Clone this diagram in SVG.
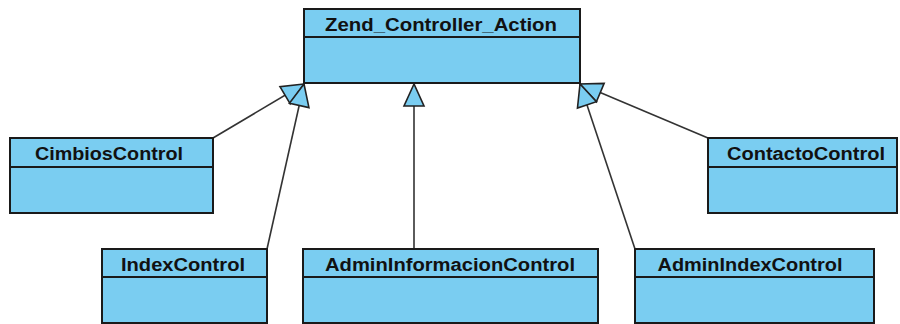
<svg xmlns="http://www.w3.org/2000/svg" width="900" height="324" viewBox="0 0 900 324">
<style>
.box{fill:#7ACDF1;stroke:#1a1a1a;stroke-width:2}
.div{stroke:#1a1a1a;stroke-width:2}
.lbl{font-family:"Liberation Sans",Arial,sans-serif;font-weight:bold;font-size:18px;fill:#111;text-anchor:middle}
.conn{stroke:#333;stroke-width:1.6;fill:none;marker-end:url(#tri)}
</style>
<defs>
<marker id="tri" markerUnits="userSpaceOnUse" markerWidth="26" markerHeight="26" viewBox="-24 -13 26 26" refX="0" refY="0" orient="auto">
<path d="M0,0 L-22,-10 L-22,10 Z" fill="#7ACDF1" stroke="#222" stroke-width="1.6" stroke-linejoin="miter"/>
</marker>
</defs>
<rect width="900" height="324" fill="#ffffff"/>
<g id="connectors">
<line class="conn" x1="213" y1="138" x2="304" y2="84"/>
<line class="conn" x1="267" y1="249" x2="304" y2="84"/>
<line class="conn" x1="414" y1="249" x2="414" y2="84"/>
<line class="conn" x1="708" y1="138" x2="580" y2="84"/>
<line class="conn" x1="635" y1="249" x2="580" y2="84"/>
</g>
<g id="Zend_Controller_Action">
<rect class="box" x="304" y="9" width="276" height="74"/>
<line class="div" x1="304" y1="37" x2="580" y2="37"/>
<text class="lbl" x="441" y="31" textLength="232" lengthAdjust="spacingAndGlyphs">Zend_Controller_Action</text>
</g>
<g id="CimbiosControl">
<rect class="box" x="10" y="138" width="203" height="75"/>
<line class="div" x1="10" y1="167" x2="213" y2="167"/>
<text class="lbl" x="109" y="160" textLength="148" lengthAdjust="spacingAndGlyphs">CimbiosControl</text>
</g>
<g id="ContactoControl">
<rect class="box" x="708" y="138" width="189" height="75"/>
<line class="div" x1="708" y1="167" x2="897" y2="167"/>
<text class="lbl" x="806" y="160" textLength="158" lengthAdjust="spacingAndGlyphs">ContactoControl</text>
</g>
<g id="IndexControl">
<rect class="box" x="102" y="249" width="165" height="74"/>
<line class="div" x1="102" y1="277" x2="267" y2="277"/>
<text class="lbl" x="183" y="271" textLength="124" lengthAdjust="spacingAndGlyphs">IndexControl</text>
</g>
<g id="AdminInformacionControl">
<rect class="box" x="303" y="249" width="295" height="74"/>
<line class="div" x1="303" y1="277" x2="598" y2="277"/>
<text class="lbl" x="450" y="271" textLength="250" lengthAdjust="spacingAndGlyphs">AdminInformacionControl</text>
</g>
<g id="AdminIndexControl">
<rect class="box" x="635" y="249" width="239" height="74"/>
<line class="div" x1="635" y1="277" x2="874" y2="277"/>
<text class="lbl" x="750" y="271" textLength="185" lengthAdjust="spacingAndGlyphs">AdminIndexControl</text>
</g>
</svg>
